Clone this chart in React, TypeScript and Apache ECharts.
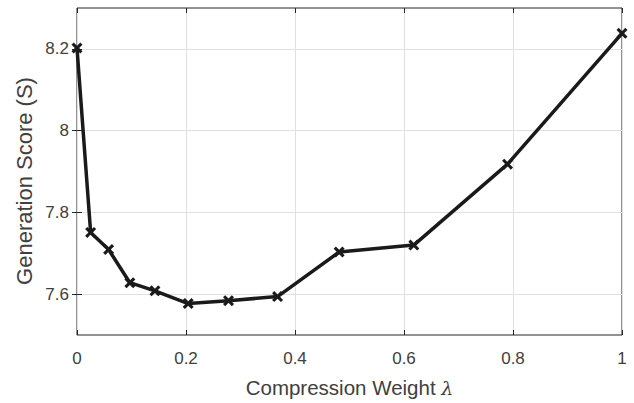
import React, { useEffect, useRef } from "react";
import * as echarts from "echarts";

const lambdaValues = [0, 0.025, 0.058, 0.097, 0.143, 0.204, 0.278, 0.368, 0.481, 0.618, 0.79, 1.0];
const scoreValues = [8.202, 7.751, 7.709, 7.628, 7.608, 7.577, 7.584, 7.594, 7.703, 7.72, 7.918, 8.238];
const yTickValues = [7.6, 7.8, 8, 8.2];
const xTitle = "Compression Weight {l|λ}";
const yTitle = "Generation Score (S)";

const FONT = "'Liberation Sans', Arial, Helvetica, sans-serif";
const TEXT = "#404040";
const AXIS = "#262626";
const GRID = "#e0e0e0";
const XMARK = "path://M2,0 L5,3 L8,0 L10,2 L7,5 L10,8 L8,10 L5,7 L2,10 L0,8 L3,5 L0,2 Z";

export default function App() {
  const ref = useRef<HTMLDivElement>(null);
  useEffect(() => {
    if (!ref.current) return;
    const chart = echarts.init(ref.current, undefined, { renderer: "svg" });
    const data = lambdaValues.map((x, i) => [x, scoreValues[i]]);
    chart.setOption({
      animation: false,
      backgroundColor: "#ffffff",
      grid: {
        left: 77,
        right: 12,
        top: 8,
        bottom: 66,
        show: true,
        borderColor: AXIS,
        borderWidth: 1,
        backgroundColor: "transparent",
      },
      graphic: [
        {
          type: "text",
          x: 24,
          y: 181,
          rotation: Math.PI / 2,
          style: {
            text: yTitle,
            fontFamily: FONT,
            fontSize: 22,
            fill: TEXT,
            align: "center",
            verticalAlign: "middle",
          },
          silent: true,
        },
      ],
      xAxis: [
        {
          type: "value",
          min: 0,
          max: 1,
          interval: 0.2,
          position: "bottom",
          name: xTitle,
          nameLocation: "middle",
          nameGap: 42,
          nameTextStyle: {
            fontFamily: FONT,
            fontSize: 20.5,
            color: TEXT,
            rich: { l: { fontFamily: "'DejaVu Serif', serif", fontStyle: "italic", fontSize: 19, color: TEXT } },
          },
          axisLine: { show: false },
          axisTick: { show: true, inside: true, length: 5, lineStyle: { color: AXIS } },
          axisLabel: {
            fontFamily: FONT,
            fontSize: 17,
            color: TEXT,
            margin: 15,
            formatter: (v: number) => String(Math.round(v * 10) / 10),
          },
          splitLine: { show: true, lineStyle: { color: GRID, width: 1 } },
        },
        {
          type: "value",
          min: 0,
          max: 1,
          interval: 0.2,
          position: "top",
          axisLine: { show: false },
          axisTick: { show: true, inside: true, length: 5, lineStyle: { color: AXIS } },
          axisLabel: { show: false },
          splitLine: { show: false },
        },
      ],
      yAxis: [
        {
          type: "value",
          min: 7.5,
          max: 8.3,
          position: "left",
          axisLine: { show: false },
          axisTick: { show: true, inside: true, length: 5, lineStyle: { color: AXIS }, customValues: yTickValues },
          axisLabel: {
            fontFamily: FONT,
            fontSize: 17,
            color: TEXT,
            margin: 8,
            customValues: yTickValues,
            formatter: (v: number) => String(Math.round(v * 10) / 10),
          },
          splitLine: { show: true, lineStyle: { color: GRID, width: 1 } },
        },
        {
          type: "value",
          min: 7.5,
          max: 8.3,
          position: "right",
          axisLine: { show: false },
          axisTick: { show: true, inside: true, length: 5, lineStyle: { color: AXIS }, customValues: yTickValues },
          axisLabel: { show: false, customValues: yTickValues },
          splitLine: { show: false },
        },
      ],
      series: [
        {
          type: "line",
          data,
          xAxisIndex: 0,
          yAxisIndex: 0,
          symbol: XMARK,
          symbolSize: 11,
          showSymbol: true,
          clip: false,
          lineStyle: { color: "#1a1a1a", width: 3.5 },
          itemStyle: { color: "#1a1a1a" },
          emphasis: { disabled: true },
        },
      ],
    });
    return () => chart.dispose();
  }, []);
  return <div ref={ref} style={{ width: 634, height: 403, position: "absolute", left: 0, top: 0 }} />;
}
